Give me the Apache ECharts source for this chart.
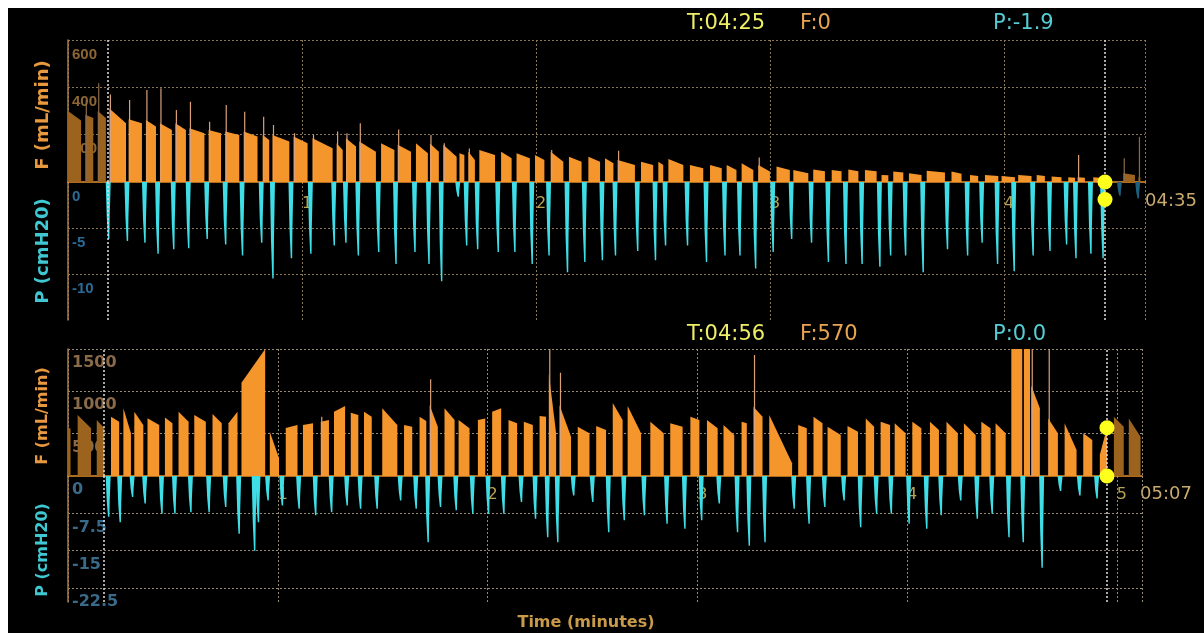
<!DOCTYPE html>
<html>
<head>
<meta charset="utf-8">
<title>F / P trend</title>
<style>
  html, body { margin: 0; padding: 0; background: #fff; }
  #chart { position: absolute; left: 8px; top: 8px; width: 1196px; height: 625px; background: #000; }
</style>
<script src="https://cdn.jsdelivr.net/npm/echarts@6/dist/echarts.min.js"></script>
</head>
<body>
<div id="chart"></div>
<script>
// time (minutes) before which the trace is dimmed
const dimStart = 0.167

// ---- top panel ----
const topMinutes = [0, 1, 2, 3, 4]
const topMaxT = 4.603
const topCursorT = 4.432
const topFTicks = [0, 200, 400, 600]
const topPMin = -15
const topPTicks = [-10, -5, 0]
const topReadout = { time: '04:25', flow: 0, press: -1.9, end: '04:35' }
// [start, end, flow at start, flow at end, spike]
const topFlow = [
  [0.000, 0.056, 300, 260, 0], [0.074, 0.108, 284, 270, 346], [0.127, 0.162, 300, 270, 417],
  [0.177, 0.248, 311, 248, 370], [0.259, 0.316, 265, 248, 346], [0.333, 0.376, 262, 234, 389],
  [0.393, 0.444, 248, 220, 396], [0.459, 0.504, 248, 220, 304], [0.519, 0.583, 227, 206, 339],
  [0.601, 0.654, 220, 206, 255], [0.672, 0.732, 213, 199, 325], [0.751, 0.810, 213, 192, 297],
  [0.832, 0.860, 199, 177, 276], [0.874, 0.946, 199, 171, 241], [0.964, 1.024, 192, 164, 206],
  [1.045, 1.131, 185, 143, 199], [1.148, 1.174, 164, 135, 213], [1.188, 1.231, 185, 150, 206],
  [1.245, 1.316, 171, 128, 248], [1.338, 1.395, 164, 135, 0], [1.409, 1.466, 157, 128, 222],
  [1.487, 1.538, 164, 121, 0], [1.547, 1.585, 163, 128, 199], [1.604, 1.661, 157, 107, 164],
  [1.673, 1.694, 121, 114, 0], [1.711, 1.739, 128, 93, 142], [1.758, 1.825, 135, 114, 0],
  [1.851, 1.896, 128, 100, 0], [1.917, 1.974, 121, 100, 0], [1.996, 2.036, 114, 93, 0],
  [2.063, 2.117, 128, 86, 135], [2.141, 2.195, 107, 86, 0], [2.224, 2.274, 107, 86, 0],
  [2.295, 2.331, 100, 79, 0], [2.349, 2.423, 93, 72, 132], [2.449, 2.501, 86, 72, 0],
  [2.523, 2.544, 86, 72, 0], [2.566, 2.630, 97, 72, 0], [2.658, 2.715, 72, 58, 0],
  [2.744, 2.794, 72, 58, 0], [2.815, 2.857, 72, 51, 0], [2.879, 2.929, 79, 51, 0],
  [2.950, 3.000, 72, 44, 103], [3.028, 3.085, 65, 51, 0], [3.100, 3.164, 51, 37, 0],
  [3.185, 3.235, 53, 45, 0], [3.264, 3.306, 51, 45, 0], [3.335, 3.378, 53, 45, 0],
  [3.406, 3.456, 51, 45, 0], [3.477, 3.506, 30, 28, 0], [3.527, 3.570, 44, 40, 0],
  [3.594, 3.648, 37, 30, 0], [3.670, 3.748, 48, 40, 0], [3.776, 3.819, 44, 35, 0],
  [3.855, 3.890, 30, 25, 0], [3.919, 3.976, 30, 25, 0], [3.990, 4.047, 25, 20, 0],
  [4.061, 4.118, 30, 25, 0], [4.140, 4.175, 30, 25, 0], [4.204, 4.246, 23, 20, 0],
  [4.275, 4.304, 20, 18, 0], [4.315, 4.346, 20, 18, 114], [4.382, 4.410, 20, 18, 0],
  [4.510, 4.560, 37, 30, 100], [4.575, 4.583, 20, 20, 191]
]
// [time, lowest pressure]
const topPress = [
  [0.174, -6.2], [0.254, -6.4], [0.329, -6.6], [0.385, -7.8], [0.452, -7.3], [0.516, -7.2],
  [0.595, -6.2], [0.674, -6.8], [0.746, -8.0], [0.828, -6.6], [0.876, -10.5], [0.955, -8.3],
  [1.038, -7.8], [1.138, -6.9], [1.188, -6.6], [1.241, -8.0], [1.328, -7.6], [1.402, -8.9],
  [1.483, -7.6], [1.543, -8.9], [1.597, -10.8], [1.668, -1.6], [1.704, -6.9], [1.751, -7.3],
  [1.839, -7.6], [1.910, -7.6], [1.984, -8.9], [2.056, -8.0], [2.135, -9.8], [2.209, -8.7],
  [2.284, -8.5], [2.340, -8.0], [2.435, -7.5], [2.511, -8.5], [2.554, -6.9], [2.648, -6.9],
  [2.729, -8.7], [2.808, -8.0], [2.872, -8.0], [2.939, -9.4], [3.014, -7.6], [3.093, -6.2],
  [3.178, -6.6], [3.250, -8.7], [3.325, -8.9], [3.394, -8.9], [3.470, -9.2], [3.516, -8.0],
  [3.580, -8.0], [3.655, -9.8], [3.759, -7.3], [3.845, -8.0], [3.907, -6.6], [3.973, -8.9],
  [4.044, -9.7], [4.125, -8.0], [4.197, -7.5], [4.268, -6.8], [4.308, -8.3], [4.372, -7.8],
  [4.424, -8.3], [4.496, -1.5], [4.574, -1.8]
]

// ---- bottom panel ----
const botMinutes = [0, 1, 2, 3, 4, 5]
const botMaxT = 5.12
const botCursorT = 4.953
const botFTicks = [0, 500, 1000, 1500]
const botPMin = -25.3
const botPTicks = [-22.5, -15, -7.5, 0]
const botReadout = { time: '04:56', flow: 570, press: 0.0, end: '05:07' }
const botFlow = [
  [0.000, 0.012, 567, 560, 0], [0.046, 0.110, 720, 563, 0], [0.137, 0.173, 661, 563, 0],
  [0.205, 0.244, 700, 640, 0], [0.264, 0.300, 800, 504, 0], [0.316, 0.359, 760, 602, 0],
  [0.379, 0.435, 681, 602, 0], [0.462, 0.498, 692, 622, 0], [0.527, 0.575, 760, 641, 0],
  [0.602, 0.657, 720, 641, 0], [0.689, 0.733, 732, 622, 0], [0.765, 0.808, 622, 760, 0],
  [0.827, 0.940, 1100, 1700, 0], [0.962, 1.006, 523, 209, 0], [1.038, 1.094, 567, 602, 0],
  [1.120, 1.168, 602, 622, 0], [1.205, 1.244, 641, 661, 700], [1.268, 1.321, 760, 827, 0],
  [1.348, 1.384, 748, 720, 0], [1.411, 1.448, 760, 700, 0], [1.498, 1.570, 800, 602, 0],
  [1.602, 1.641, 602, 582, 0], [1.676, 1.708, 700, 650, 0], [1.724, 1.763, 838, 582, 1142],
  [1.795, 1.843, 800, 661, 0], [1.862, 1.914, 661, 563, 0], [1.954, 1.989, 661, 680, 0],
  [2.022, 2.065, 760, 800, 0], [2.100, 2.141, 661, 622, 0], [2.173, 2.216, 641, 602, 0],
  [2.248, 2.279, 710, 700, 0], [2.292, 2.327, 1213, 504, 1520], [2.343, 2.398, 838, 465, 1220],
  [2.430, 2.486, 582, 504, 0], [2.518, 2.565, 590, 543, 0], [2.597, 2.644, 862, 661, 0],
  [2.668, 2.732, 827, 504, 0], [2.776, 2.840, 641, 504, 0], [2.871, 2.930, 622, 582, 0],
  [2.967, 3.010, 700, 661, 0], [3.046, 3.097, 661, 563, 0], [3.125, 3.176, 602, 485, 0],
  [3.211, 3.236, 641, 622, 0], [3.268, 3.311, 819, 700, 1429], [3.343, 3.452, 720, 150, 0],
  [3.481, 3.522, 602, 563, 0], [3.554, 3.597, 700, 622, 0], [3.621, 3.684, 582, 485, 0],
  [3.716, 3.766, 590, 524, 0], [3.803, 3.843, 680, 582, 0], [3.874, 3.919, 641, 602, 0],
  [3.941, 3.993, 622, 504, 0], [4.025, 4.068, 641, 563, 0], [4.109, 4.152, 641, 543, 0],
  [4.188, 4.242, 641, 504, 0], [4.271, 4.327, 622, 485, 0], [4.354, 4.398, 641, 563, 0],
  [4.422, 4.470, 622, 504, 0], [4.497, 4.549, 1600, 1600, 0], [4.557, 4.586, 1600, 1600, 0],
  [4.592, 4.633, 1070, 800, 1600], [4.673, 4.719, 680, 504, 1550], [4.751, 4.808, 622, 307, 0],
  [4.840, 4.883, 504, 425, 0], [4.919, 4.953, 250, 570, 0], [4.986, 5.033, 700, 582, 0],
  [5.057, 5.113, 680, 465, 0]
]
const botPress = [
  [0.194, -8.2], [0.249, -9.3], [0.308, -4.2], [0.368, -5.5], [0.448, -7.6], [0.510, -7.6],
  [0.586, -7.3], [0.673, -7.3], [0.752, -6.2], [0.816, -11.6], [0.890, -15.0], [0.908, -9.3],
  [0.954, -4.9], [1.022, -5.9], [1.102, -6.6], [1.181, -7.9], [1.257, -7.3], [1.331, -5.9],
  [1.395, -6.6], [1.474, -6.6], [1.586, -4.9], [1.660, -6.6], [1.717, -13.3], [1.776, -6.2],
  [1.851, -6.9], [1.930, -7.6], [2.005, -7.6], [2.078, -7.6], [2.162, -5.2], [2.229, -8.6],
  [2.287, -12.3], [2.335, -13.3], [2.411, -3.9], [2.502, -5.2], [2.578, -11.3], [2.652, -8.9],
  [2.748, -7.9], [2.856, -9.6], [2.941, -10.6], [3.021, -8.9], [3.105, -5.5], [3.192, -11.3],
  [3.248, -14.0], [3.323, -13.3], [3.462, -6.6], [3.533, -9.6], [3.608, -6.2], [3.700, -4.9],
  [3.779, -10.3], [3.855, -7.6], [3.925, -7.6], [4.010, -9.6], [4.094, -10.6], [4.163, -7.9],
  [4.256, -4.9], [4.335, -8.6], [4.406, -7.6], [4.486, -12.3], [4.554, -13.3], [4.644, -18.4],
  [4.732, -3.0], [4.824, -3.9], [4.906, -4.5]
]

const panels = [
  {
    minutes: topMinutes, maxT: topMaxT, cursorT: topCursorT, fTicks: topFTicks,
    pMin: topPMin, pTicks: topPTicks, readout: topReadout, flow: topFlow, press: topPress,
    top: 32, fh: 142, ph: 138, width: 1077, headerY: 15.5, endY: 193.5, endX: 1137,
    xLabelMargin: 14, yFont: 15, yFamily: 'Liberation Sans', yPad: 7,
    fLabel: '#8c6634', pLabel: '#2c6a96', gridColor: '#8a7855',
    titleSize: 18, fTitleY: 107, pTitleY: 243
  },
  {
    minutes: botMinutes, maxT: botMaxT, cursorT: botCursorT, fTicks: botFTicks,
    pMin: botPMin, pTicks: botPTicks, readout: botReadout, flow: botFlow, press: botPress,
    top: 341, fh: 127, ph: 126, width: 1074, headerY: 326.5, endY: 486.5, endX: 1132,
    xLabelMargin: 11, yFont: 16, yFamily: 'DejaVu Sans', yPad: 6,
    fLabel: '#8a6a48', pLabel: '#3a6a8a', gridColor: '#958a72',
    titleSize: 16, fTitleY: 408, pTitleY: 542
  }
]

function isDim(t, p) {
  return t < dimStart || t > p.cursorT
}

function flowRender(p) {
  return function (params, api) {
    const t0 = api.value(0)
    const cs = params.coordSys
    const rect = { x: cs.x, y: cs.y, width: cs.width, height: cs.height }
    const b0 = api.coord([t0, 0])
    const a = api.coord([t0, api.value(2)])
    const b = api.coord([api.value(1), api.value(3)])
    const b1 = api.coord([api.value(1), 0])
    const dim = isDim(t0, p)
    const children = [{
      type: 'polygon',
      shape: { points: echarts.graphic.clipPointsByRect([b0, a, b, b1], rect) },
      style: { fill: dim ? '#9c631e' : '#f5962c' }
    }]
    const spike = api.value(4)
    if (spike > 0) {
      const s = api.coord([t0, spike])
      children.push({
        type: 'line',
        shape: { x1: b0[0] + 1, y1: b0[1], x2: b0[0] + 1, y2: Math.max(s[1], cs.y) },
        style: { stroke: dim ? '#8a6a4a' : '#d9a07a', lineWidth: 1.2 }
      })
    }
    return { type: 'group', children }
  }
}

function pressRender(p) {
  return function (params, api) {
    const t = api.value(0)
    const z = api.coord([t, 0])
    const e = api.coord([t, api.value(1)])
    const mid = z[1] + (e[1] - z[1]) * 0.6
    const x = z[0]
    return {
      type: 'polygon',
      shape: { points: [[x - 3, z[1]], [x + 2, z[1]], [x + 1, mid], [x + 0.7, e[1]], [x - 0.7, e[1]], [x - 2, mid]] },
      style: { fill: isDim(t, p) ? '#1f5f7f' : '#3fdde6' }
    }
  }
}

function vLines(p) {
  return {
    silent: true,
    symbol: ['none', 'none'],
    label: { show: false },
    lineStyle: { color: '#dedede', type: [2, 2], width: 1.5 },
    data: [{ xAxis: dimStart }, { xAxis: p.cursorT }]
  }
}

const grid = []
const xAxis = []
const yAxis = []
const series = []
const graphic = []

panels.forEach(function (p, k) {
  const gi = k * 2
  const split = { show: true, lineStyle: { color: p.gridColor, type: [2, 2], width: 1 } }
  grid.push({ left: 60, top: p.top, width: p.width, height: p.fh })
  grid.push({ left: 60, top: p.top + p.fh, width: p.width, height: p.ph })

  xAxis.push({
    type: 'value', gridIndex: gi, min: 0, max: p.maxT, interval: p.minutes[1] - p.minutes[0],
    axisLine: { show: true, onZero: false, lineStyle: { color: '#e8902c', width: 1.5 } },
    axisTick: { show: false }, axisLabel: { show: false }, splitLine: split
  })
  xAxis.push({
    type: 'value', gridIndex: gi + 1, position: 'top', min: 0, max: p.maxT,
    interval: p.minutes[1] - p.minutes[0],
    axisLine: { show: false }, axisTick: { show: false },
    axisLabel: {
      inside: true, margin: p.xLabelMargin, align: 'left', verticalAlign: 'top',
      showMinLabel: false, showMaxLabel: false,
      color: '#b8a352', fontSize: 16, fontFamily: 'DejaVu Sans'
    },
    splitLine: split
  })

  const yLabel = {
    inside: true, margin: 4, align: 'left', verticalAlign: 'top', padding: [p.yPad, 0, 0, 0],
    fontSize: p.yFont, fontWeight: 'bold', fontFamily: p.yFamily,
    formatter: function (v) { return String(v) }
  }
  yAxis.push({
    type: 'value', gridIndex: gi,
    min: p.fTicks[0], max: p.fTicks[p.fTicks.length - 1], interval: p.fTicks[1] - p.fTicks[0],
    axisLine: { show: true, lineStyle: { color: '#a47e4c', width: 1.5 } },
    axisTick: { show: false },
    axisLabel: Object.assign({ showMinLabel: false, color: p.fLabel }, yLabel),
    splitLine: Object.assign({ showMinLine: false }, split)
  })
  yAxis.push({
    type: 'value', gridIndex: gi + 1, min: p.pMin, max: 0,
    axisLine: { show: true, lineStyle: { color: '#a47e4c', width: 1.5 } },
    axisTick: { show: false, customValues: p.pTicks },
    axisLabel: Object.assign({ customValues: p.pTicks, color: p.pLabel }, yLabel),
    splitLine: Object.assign({ showMaxLine: false }, split)
  })

  series.push({
    type: 'custom', xAxisIndex: gi, yAxisIndex: gi, data: p.flow,
    encode: { x: [0, 1], y: [2, 3, 4] }, renderItem: flowRender(p), markLine: vLines(p)
  })
  series.push({
    type: 'custom', xAxisIndex: gi + 1, yAxisIndex: gi + 1, data: p.press,
    encode: { x: 0, y: 1 }, renderItem: pressRender(p), markLine: vLines(p)
  })
  const dot = { symbolSize: 15, itemStyle: { color: '#ffff1e', opacity: 1 }, clip: false, z: 5, silent: true }
  series.push(Object.assign({ type: 'scatter', xAxisIndex: gi, yAxisIndex: gi, data: [[p.cursorT, p.readout.flow]] }, dot))
  series.push(Object.assign({ type: 'scatter', xAxisIndex: gi + 1, yAxisIndex: gi + 1, data: [[p.cursorT, p.readout.press]] }, dot))

  const head = { fontSize: 21, fontFamily: 'DejaVu Sans', verticalAlign: 'middle' }
  graphic.push(
    { type: 'text', x: 679, y: p.headerY, style: Object.assign({ text: 'T:' + p.readout.time, fill: '#eeee66' }, head) },
    { type: 'text', x: 792, y: p.headerY, style: Object.assign({ text: 'F:' + p.readout.flow, fill: '#e9a453' }, head) },
    { type: 'text', x: 985, y: p.headerY, style: Object.assign({ text: 'P:' + p.readout.press.toFixed(1), fill: '#56ccd4' }, head) },
    { type: 'text', x: p.endX, y: p.endY, style: { text: p.readout.end, fill: '#c8aa6e', fontSize: 18, fontFamily: 'DejaVu Sans', verticalAlign: 'middle' } },
    { type: 'text', x: 35, y: p.fTitleY, rotation: Math.PI / 2, style: { text: 'F (mL/min)', fill: '#e8983e', fontSize: p.titleSize, fontWeight: 'bold', fontFamily: 'DejaVu Sans', align: 'center', verticalAlign: 'middle' } },
    { type: 'text', x: 35, y: p.pTitleY, rotation: Math.PI / 2, style: { text: 'P (cmH20)', fill: '#40c8d2', fontSize: p.titleSize, fontWeight: 'bold', fontFamily: 'DejaVu Sans', align: 'center', verticalAlign: 'middle' } }
  )
})

graphic.push({
  type: 'text', x: 578, y: 615,
  style: { text: 'Time (minutes)', fill: '#c89a4a', fontSize: 16, fontWeight: 'bold', fontFamily: 'DejaVu Sans', align: 'center', verticalAlign: 'middle' }
})

const chart = echarts.init(document.getElementById('chart'))
chart.setOption({
  backgroundColor: '#000',
  animation: false,
  grid, xAxis, yAxis, series, graphic
})
</script>
</body>
</html>
